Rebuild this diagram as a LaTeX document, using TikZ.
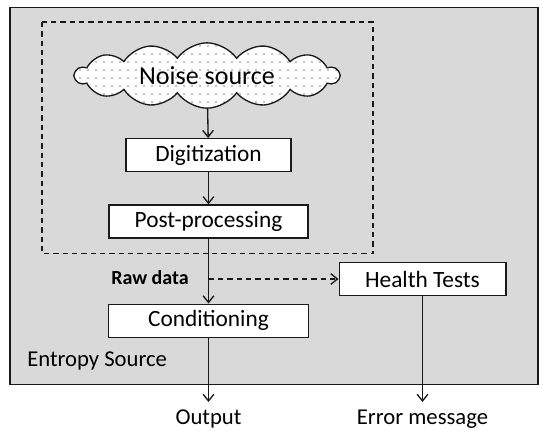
\documentclass[tikz,border=0pt]{standalone}
\usepackage{fontspec}
\setmainfont{Carlito}
\usetikzlibrary{arrows.meta,positioning,shapes.symbols,patterns.meta}
\definecolor{esgray}{HTML}{D9D9D9}
\definecolor{esline}{HTML}{1A1A1A}
\tikzset{
  esbox/.style={draw=esline, fill=white, line width=1pt, inner sep=0pt,
                font=\fontsize{17.5}{20}\selectfont, minimum height=24.75pt},
  esflow/.style={-{Straight Barb[length=5pt,width=8pt]}, draw=esline, line width=1pt},
  esdash/.style={esflow, dashed, dash pattern=on 4pt off 3pt},
  eslabel/.style={font=\fontsize{17}{20}\selectfont, inner sep=0pt},
}
\begin{document}
\begin{tikzpicture}[x=0.75pt,y=-0.75pt]
  \useasboundingbox (0,0) rectangle (539,430);
  % entropy source frame and noise part
  \draw[fill=esgray, draw=esline, line width=0.8pt] (10,7.5) rectangle (538,384.5);
  \draw[esline, line width=1pt, dash pattern=on 4pt off 3pt] (42,22) rectangle (373,253.5);
  \node[eslabel, anchor=west] (es) at (27,361) {Entropy Source};
  \node[cloud, cloud puffs=14, cloud puff arc=110, aspect=4.4, draw=esline, line width=1pt,
        fill=white, postaction={pattern={Dots[distance=6pt,radius=0.45pt]}},
        minimum width=198pt, minimum height=49pt, inner sep=0pt,
        font=\fontsize{19.5}{22}\selectfont] (noise) at (207,75.5) {Noise source};
  \node[esbox, minimum width=123.75pt] (digit) at (208.5,155.2) {Digitization};
  \node[esbox, minimum width=149.25pt] (post) at (208.5,221.5) {Post-processing};
  \node[esbox, minimum width=150pt] (cond) at (208.5,320.7) {Conditioning};
  \node[esbox, minimum width=125pt] (health) at (422.5,279) {Health Tests};
  \node[eslabel, font=\fontsize{15}{18}\selectfont\bfseries] (raw) at (150,277.3) {Raw data};
  \node[eslabel, anchor=north] (out) at (208.5,410) {Output};
  \node[eslabel, anchor=north] (err) at (422.5,410) {Error message};
  \coordinate (tap) at (post.south |- health.west);
  \draw[esflow] (noise) -- (digit);
  \draw[esflow] (digit) -- (post);
  \draw[esflow] (post) -- (cond);
  \draw[esdash] (tap) -- (health);
  \draw[esflow] (cond) -- ([yshift=6pt]out.north);
  \draw[esflow] (health) -- ([yshift=6pt]err.north);
\end{tikzpicture}
\end{document}
